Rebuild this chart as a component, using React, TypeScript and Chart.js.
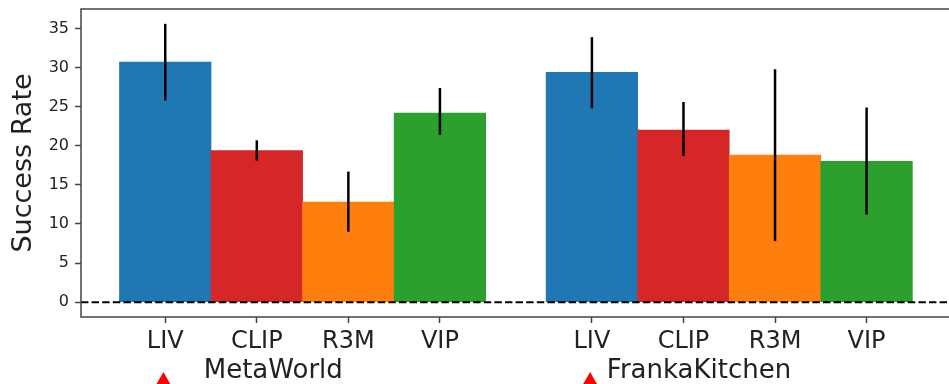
import React, { useEffect, useRef } from 'react';
import { Chart, registerables } from 'chart.js';

Chart.register(...registerables);

// ---- data ----
const methods = ['LIV', 'CLIP', 'R3M', 'VIP'];
const groups = ['MetaWorld', 'FrankaKitchen'];
const barX = [0, 1, 2, 3, 4.66, 5.66, 6.66, 7.66];
const barLabels = [...methods, ...methods];
const successMean = [30.7, 19.4, 12.8, 24.2, 29.4, 22.0, 18.8, 18.0];
const errLow = [25.8, 18.1, 9.0, 21.4, 24.8, 18.7, 7.8, 11.2];
const errHigh = [35.6, 20.7, 16.7, 27.4, 33.9, 25.6, 29.8, 24.9];
const methodColors = ['#1f77b4', '#d62728', '#ff7f0e', '#2ca02c'];
const barColors = [...methodColors, ...methodColors];
const yTicks = [0, 5, 10, 15, 20, 25, 30, 35];
const xRange = [-0.92, 8.56];
const yRange = [-1.9, 37.5];
const groupLabelX = [1.18, 5.83];
const markerX = [-0.02, 4.64];
const markerY = [-10.1, -10.1];

const FONT = "'DejaVu Sans', sans-serif";
const TEXT = '#222';
const SPINE = '#444';

const framePlugin = {
  id: 'frame',
  afterDraw(chart: any) {
    const { ctx, chartArea } = chart;
    const { left, right, top, bottom } = chartArea;
    ctx.save();
    ctx.strokeStyle = SPINE;
    ctx.lineWidth = 1.5;
    ctx.beginPath();
    ctx.moveTo(right, top);
    ctx.lineTo(left, top);
    ctx.lineTo(left, bottom);
    ctx.lineTo(right, bottom);
    ctx.stroke();
    ctx.restore();
  },
};

const errorBarPlugin = {
  id: 'errorBars',
  afterDatasetsDraw(chart: any) {
    const { ctx } = chart;
    const x = chart.scales.x;
    const y = chart.scales.y;
    ctx.save();
    ctx.strokeStyle = '#000';
    ctx.lineWidth = 2.5;
    barX.forEach((bx, i) => {
      const px = x.getPixelForValue(bx);
      ctx.beginPath();
      ctx.moveTo(px, y.getPixelForValue(errLow[i]));
      ctx.lineTo(px, y.getPixelForValue(errHigh[i]));
      ctx.stroke();
    });
    ctx.restore();
  },
};

const markerPlugin = {
  id: 'markers',
  afterDraw(chart: any) {
    const { ctx } = chart;
    const x = chart.scales.x;
    const y = chart.scales.y;
    const r = 9;
    ctx.save();
    ctx.fillStyle = 'red';
    markerX.forEach((mx, i) => {
      const px = x.getPixelForValue(mx);
      const py = y.getPixelForValue(markerY[i]);
      ctx.beginPath();
      for (let k = 0; k < 3; k++) {
        const a = (k * 2 * Math.PI) / 3;
        const vx = px + Math.sin(a) * r;
        const vy = py - Math.cos(a) * r;
        if (k === 0) ctx.moveTo(vx, vy);
        else ctx.lineTo(vx, vy);
      }
      ctx.closePath();
      ctx.fill();
    });
    ctx.restore();
  },
};

const groupLabelPlugin = {
  id: 'groupLabels',
  afterDraw(chart: any) {
    const { ctx, chartArea } = chart;
    const x = chart.scales.x;
    ctx.save();
    ctx.fillStyle = TEXT;
    ctx.font = `26px ${FONT}`;
    ctx.textAlign = 'center';
    ctx.textBaseline = 'middle';
    groups.forEach((g, i) => {
      ctx.fillText(g, x.getPixelForValue(groupLabelX[i]), chartArea.bottom + 54);
    });
    ctx.restore();
  },
};

const zeroPadding = (scale: any) => {
  scale.paddingLeft = 0;
  scale.paddingRight = 0;
  scale.paddingTop = 0;
  scale.paddingBottom = 0;
};

export default function App() {
  const ref = useRef<HTMLCanvasElement | null>(null);

  useEffect(() => {
    if (!ref.current) return;
    const chart = new Chart(ref.current, {
      type: 'bar',
      data: {
        datasets: [
          {
            type: 'line',
            data: [
              { x: xRange[0], y: 0 },
              { x: xRange[1], y: 0 },
            ],
            borderColor: '#000',
            borderWidth: 2,
            borderDash: [7.4, 3.2],
            pointRadius: 0,
            order: 1,
          } as any,
          {
            type: 'bar',
            data: barX.map((bx, i) => ({ x: bx, y: successMean[i] })),
            backgroundColor: barColors,
            borderWidth: 0,
            barPercentage: 1,
            categoryPercentage: 1,
            order: 2,
          } as any,
        ],
      },
      options: {
        animation: false,
        responsive: true,
        maintainAspectRatio: false,
        events: [],
        layout: { padding: { top: 9, left: 0, right: 0, bottom: 0 } },
        plugins: {
          legend: { display: false },
          tooltip: { enabled: false },
        },
        scales: {
          x: {
            type: 'linear',
            min: xRange[0],
            max: xRange[1],
            offset: false,
            afterBuildTicks: (scale: any) => {
              scale.ticks = barX.map((v) => ({ value: v }));
            },
            afterFit: (scale: any) => {
              scale.height = 67;
              zeroPadding(scale);
            },
            ticks: {
              autoSkip: false,
              maxRotation: 0,
              minRotation: 0,
              padding: 4,
              color: TEXT,
              font: { family: FONT, size: 24 },
              callback: (_v: any, i: number) => barLabels[i],
            },
            grid: {
              offset: false,
              drawOnChartArea: false,
              drawTicks: true,
              tickLength: 6,
              tickWidth: 1.5,
              tickColor: SPINE,
              color: SPINE,
            },
            border: { display: false },
          },
          y: {
            type: 'linear',
            min: yRange[0],
            max: yRange[1],
            afterBuildTicks: (scale: any) => {
              scale.ticks = yTicks.map((v) => ({ value: v }));
            },
            afterFit: (scale: any) => {
              scale.width = 81;
              zeroPadding(scale);
            },
            ticks: {
              padding: 6,
              color: TEXT,
              font: { family: FONT, size: 16 },
            },
            grid: {
              drawOnChartArea: false,
              drawTicks: true,
              tickLength: 6,
              tickWidth: 1.5,
              tickColor: SPINE,
              color: SPINE,
            },
            border: { display: false },
            title: {
              display: true,
              text: 'Success Rate',
              color: TEXT,
              font: { family: FONT, size: 27 },
              padding: { top: 8, bottom: 0 },
            },
          },
        },
      } as any,
      plugins: [framePlugin, errorBarPlugin, markerPlugin, groupLabelPlugin],
    });
    return () => chart.destroy();
  }, []);

  return (
    <div style={{ position: 'absolute', left: 0, top: 0, width: 949, height: 384, background: '#fff' }}>
      <canvas ref={ref} />
    </div>
  );
}
